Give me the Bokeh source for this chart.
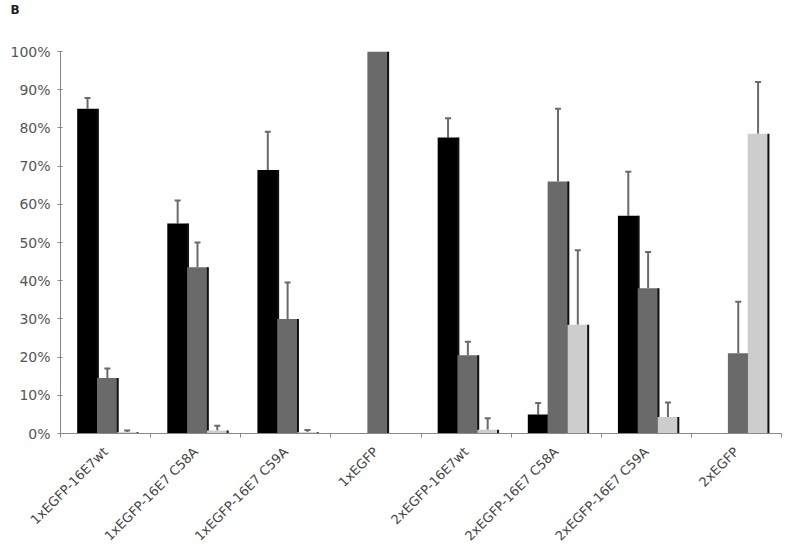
import math
import numpy as np
from bokeh.plotting import figure
from bokeh.models import (ColumnDataSource, Range1d, FixedTicker, PrintfTickFormatter,
                          Whisker, TeeHead, Title)
from bokeh.transform import dodge
from bokeh.embed import file_html
from bokeh.resources import INLINE

nan = np.nan
categories = ["1xEGFP-16E7wt", "1xEGFP-16E7 C58A", "1xEGFP-16E7 C59A", "1xEGFP",
              "2xEGFP-16E7wt", "2xEGFP-16E7 C58A", "2xEGFP-16E7 C59A", "2xEGFP"]
black_vals = [85.0, 55.0, 69.0, nan, 77.5, 5.0, 57.0, nan]
black_err = [2.8, 6.0, 10.0, nan, 5.0, 3.0, 11.5, nan]
gray_vals = [14.5, 43.5, 30.0, 100.0, 20.5, 66.0, 38.0, 21.0]
gray_err = [2.5, 6.5, 9.5, nan, 3.5, 19.0, 9.5, 13.5]
light_vals = [0.3, 0.8, 0.3, nan, 1.0, 28.5, 4.3, 78.5]
light_err = [0.5, 1.2, 0.6, nan, 3.0, 19.5, 3.8, 13.5]
y_ticks = [0, 10, 20, 30, 40, 50, 60, 70, 80, 90, 100]

x_centers = [i + 0.5 for i in range(len(categories))]
data = dict(x=x_centers)
series = [("black", black_vals, black_err, "#000000", -0.20),
          ("gray", gray_vals, gray_err, "#6a6a6a", 0.02),
          ("light", light_vals, light_err, "#cdcdcd", 0.24)]
for name, vals, errs, _, _ in series:
    data[name] = vals
    data[name + "_up"] = [v + e for v, e in zip(vals, errs)]
src = ColumnDataSource(data)

p = figure(frame_width=721, frame_height=382, output_backend="svg", toolbar_location=None,
           x_range=Range1d(0, len(categories)), y_range=Range1d(0, 100),
           min_border_left=60, min_border_right=19, min_border_top=50, min_border_bottom=100)
p.outline_line_color = None
p.xgrid.visible = False
p.ygrid.visible = False

bw = 0.23
for name, vals, errs, color, off in series:
    p.vbar(x=dodge("x", off), top=name, width=bw, source=src,
           fill_color=color, line_color=None)
    p.segment(x0=dodge("x", off + bw / 2), y0=0, x1=dodge("x", off + bw / 2), y1=name,
              source=src, line_color="#111111", line_width=2)
    w = Whisker(source=src, base=dodge("x", off), lower=name, upper=name + "_up",
                dimension="height", line_color="#6a6a6a", line_width=2,
                upper_head=TeeHead(size=6, line_color="#6a6a6a", line_width=2),
                lower_head=None)
    p.add_layout(w)

# y axis
p.yaxis.ticker = FixedTicker(ticks=y_ticks)
p.yaxis.formatter = PrintfTickFormatter(format="%d%%")
p.yaxis.axis_line_color = "#888888"
p.yaxis.major_tick_line_color = "#888888"
p.yaxis.major_tick_in = 2
p.yaxis.major_tick_out = 3
p.yaxis.minor_tick_line_color = None
p.yaxis.major_label_text_font = "DejaVu Sans"
p.yaxis.major_label_text_font_size = "14px"
p.yaxis.major_label_text_color = "#555555"
p.yaxis.major_label_standoff = 7

# x axis
p.xaxis.ticker = FixedTicker(ticks=x_centers, minor_ticks=list(range(len(categories) + 1)))
p.xaxis.major_label_overrides = {x: c for x, c in zip(x_centers, categories)}
p.xaxis.axis_line_color = "#888888"
p.xaxis.major_tick_line_color = None
p.xaxis.minor_tick_line_color = "#888888"
p.xaxis.minor_tick_in = 0
p.xaxis.minor_tick_out = 4
p.xaxis.major_label_orientation = math.pi / 4
p.xaxis.major_label_text_font = "DejaVu Sans"
p.xaxis.major_label_text_font_size = "13px"
p.xaxis.major_label_text_color = "#444444"
p.xaxis.major_label_standoff = 10

spacer = Title(text=" ", text_font_size="12px", standoff=19)
t = Title(text="B", align="left", text_font="DejaVu Sans", text_font_size="12px",
          text_font_style="bold", text_color="#222222", offset=-50, standoff=0)
p.add_layout(spacer, "above")
p.add_layout(t, "above")

open("out.html", "w").write(file_html(p, INLINE))
